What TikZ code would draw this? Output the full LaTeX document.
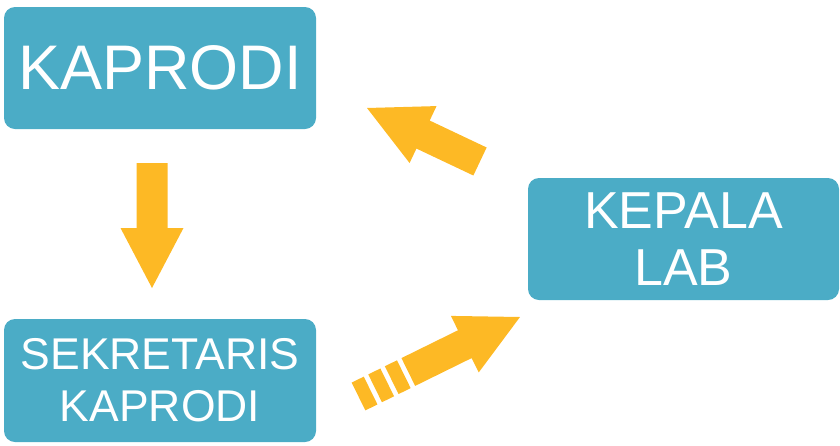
\documentclass[tikz,border=0pt]{standalone}
\usepackage{fontspec}
\setmainfont{Liberation Sans}
\usetikzlibrary{calc}
\definecolor{boxblue}{HTML}{4BACC6}
\definecolor{arrowgold}{HTML}{FDB925}
% block arrow: tail centre, tip, shaft length
\newcommand\blockarr[3]{%
  \path ($(#1)!#3!(#2)$) coordinate (hb);
  \fill[arrowgold] ($(#1)!15.5pt!90:(#2)$) -- ($(hb)!15.5pt!90:(#2)$) -- ($(hb)!31.5pt!90:(#2)$) -- (#2)
    -- ($(hb)!31.5pt!-90:(#2)$) -- ($(hb)!15.5pt!-90:(#2)$) -- ($(#1)!15.5pt!-90:(#2)$) -- cycle;
}
% stripe: start point, direction point, from, to
\newcommand\stripebar[4]{%
  \path ($(#1)!#3!(#2)$) coordinate (sa) ($(#1)!#4!(#2)$) coordinate (sb);
  \fill[arrowgold] ($(sa)!15.5pt!90:(#2)$) -- ($(sb)!15.5pt!90:(#2)$) -- ($(sb)!15.5pt!-90:(#2)$) -- ($(sa)!15.5pt!-90:(#2)$) -- cycle;
}
\begin{document}
\begin{tikzpicture}[x=1pt,y=-1pt,
  box/.style={fill=boxblue, rounded corners=11pt, text=white, minimum width=312pt,
    minimum height=122pt, inner sep=0pt, align=center}]
\useasboundingbox (0,0) rectangle (840,445);
\node[box, font=\fontsize{63}{70}\selectfont] (kaprodi) at (160,68) {KAPRODI};
\node[box, minimum height=123pt, font=\fontsize{44.5}{52}\selectfont] (sekretaris) at (160,380.5) {SEKRETARIS\\KAPRODI};
\node[box, minimum width=311pt, font=\fontsize{52}{57}\selectfont] (kepala) at (683.5,239) {KEPALA\\LAB};
% down arrow
\coordinate (dt) at (152,163);
\coordinate (dp) at (152,288);
\blockarr{dt}{dp}{65pt}
% upper arrow
\coordinate (ut) at (480,161.5);
\coordinate (up) at (367,108);
\blockarr{ut}{up}{63pt}
% lower striped arrow
\coordinate (ls) at (358.5,396.5);
\coordinate (lp) at (520,317);
\coordinate (lt) at ($(ls)!55.5pt!(lp)$);
\blockarr{lt}{lp}{63pt}
\stripebar{ls}{lp}{0pt}{13.5pt}
\stripebar{ls}{lp}{18.5pt}{32pt}
\stripebar{ls}{lp}{37pt}{50.5pt}
\end{tikzpicture}
\end{document}
